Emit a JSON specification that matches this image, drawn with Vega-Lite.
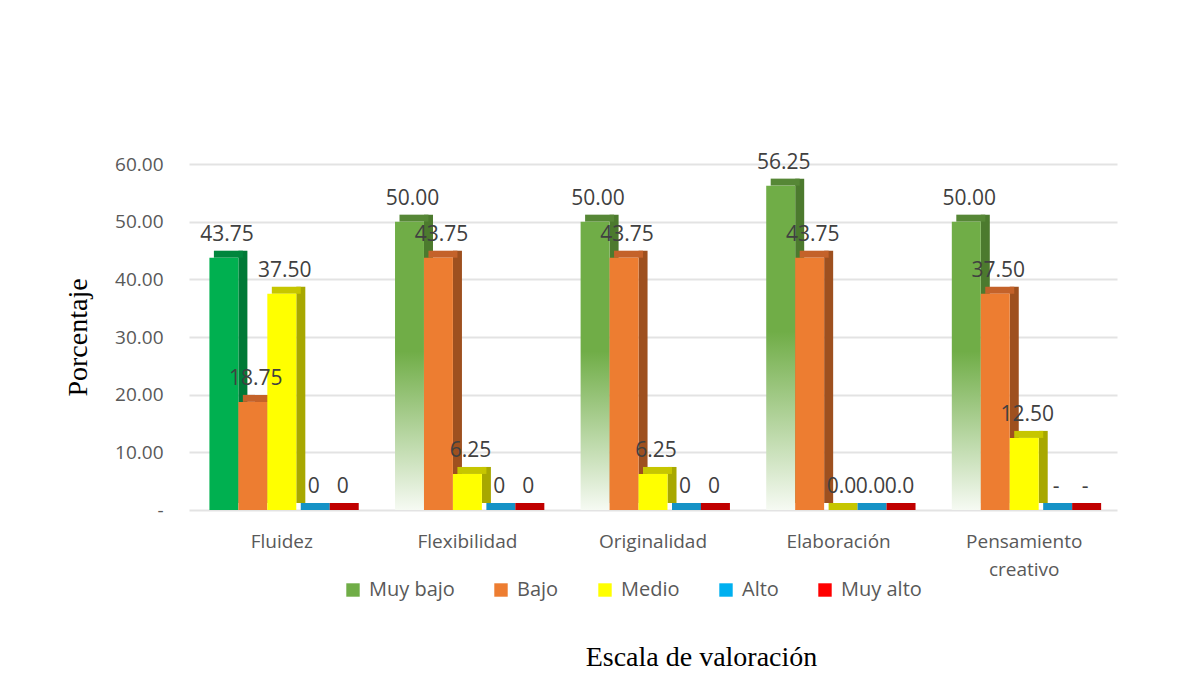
{
  "$schema": "https://vega.github.io/schema/vega-lite/v6.json",
  "autosize": {"type": "none"},
  "padding": {"left": 189, "top": 164, "right": 60, "bottom": 169},
  "width": 928,
  "height": 346,
  "background": "#FFFFFF",
  "config": {"view": {"stroke": null}, "font": "Open Sans"},
  "data": {
    "values": [
      {"cat": "Fluidez", "serie": "Muy bajo", "value": 43.75, "label": "43.75"},
      {"cat": "Fluidez", "serie": "Bajo", "value": 18.75, "label": "18.75"},
      {"cat": "Fluidez", "serie": "Medio", "value": 37.5, "label": "37.50"},
      {"cat": "Fluidez", "serie": "Alto", "value": 0, "label": "0"},
      {"cat": "Fluidez", "serie": "Muy alto", "value": 0, "label": "0"},
      {"cat": "Flexibilidad", "serie": "Muy bajo", "value": 50, "label": "50.00"},
      {"cat": "Flexibilidad", "serie": "Bajo", "value": 43.75, "label": "43.75"},
      {"cat": "Flexibilidad", "serie": "Medio", "value": 6.25, "label": "6.25"},
      {"cat": "Flexibilidad", "serie": "Alto", "value": 0, "label": "0"},
      {"cat": "Flexibilidad", "serie": "Muy alto", "value": 0, "label": "0"},
      {"cat": "Originalidad", "serie": "Muy bajo", "value": 50, "label": "50.00"},
      {"cat": "Originalidad", "serie": "Bajo", "value": 43.75, "label": "43.75"},
      {"cat": "Originalidad", "serie": "Medio", "value": 6.25, "label": "6.25"},
      {"cat": "Originalidad", "serie": "Alto", "value": 0, "label": "0"},
      {"cat": "Originalidad", "serie": "Muy alto", "value": 0, "label": "0"},
      {"cat": "Elaboración", "serie": "Muy bajo", "value": 56.25, "label": "56.25"},
      {"cat": "Elaboración", "serie": "Bajo", "value": 43.75, "label": "43.75"},
      {"cat": "Elaboración", "serie": "Medio", "value": 0, "label": "0.0"},
      {"cat": "Elaboración", "serie": "Alto", "value": 0, "label": "0.0"},
      {"cat": "Elaboración", "serie": "Muy alto", "value": 0, "label": "0.0"},
      {"cat": "Pensamiento creativo", "serie": "Muy bajo", "value": 50, "label": "50.00"},
      {"cat": "Pensamiento creativo", "serie": "Bajo", "value": 37.5, "label": "37.50"},
      {"cat": "Pensamiento creativo", "serie": "Medio", "value": 12.5, "label": "12.50"},
      {"cat": "Pensamiento creativo", "serie": "Alto", "value": 0, "label": "-"},
      {"cat": "Pensamiento creativo", "serie": "Muy alto", "value": 0, "label": "-"}
    ]
  },
  "encoding": {
    "x": {
      "field": "cat",
      "type": "nominal",
      "sort": null,
      "scale": {"paddingInner": 0.22, "paddingOuter": 0.11},
      "axis": {
        "title": "Escala de valoración",
        "titleFont": "Liberation Serif",
        "titleFontSize": 28,
        "titleFontWeight": "normal",
        "titleColor": "#000000",
        "titleX": 512,
        "titleY": 147,
        "titleAlign": "center",
        "titleBaseline": "middle",
        "labelAngle": 0,
        "labelFontSize": 19,
        "labelColor": "#595959",
        "labelPadding": 22,
        "labelLineHeight": 28,
        "labelExpr": "datum.label == 'Pensamiento creativo' ? ['Pensamiento', 'creativo'] : datum.label",
        "domain": false,
        "ticks": false
      }
    },
    "y": {
      "field": "value",
      "type": "quantitative",
      "scale": {"domain": [0, 60], "nice": false},
      "axis": {
        "title": "Porcentaje",
        "titleFont": "Liberation Serif",
        "titleFontSize": 28,
        "titleFontWeight": "normal",
        "titleColor": "#000000",
        "titleAngle": -90,
        "titleX": -111,
        "titleY": 173,
        "titleAlign": "center",
        "titleBaseline": "middle",
        "values": [0, 10, 20, 30, 40, 50, 60],
        "labelExpr": "datum.value == 0 ? '-\u00a0\u00a0\u00a0\u00a0\u00a0' : format(datum.value, '.2f')",
        "labelFontSize": 19,
        "labelColor": "#595959",
        "labelPadding": 26,
        "domain": false,
        "ticks": false,
        "grid": true,
        "gridColor": "#E3E3E3",
        "gridWidth": 2
      }
    }
  },
  "resolve": {"scale": {"xOffset": "independent"}},
  "layer": [
    {
      "mark": {"type": "rule", "strokeWidth": 9, "yOffset": -7, "y2Offset": -7},
      "encoding": {
        "xOffset": {
          "field": "serie",
          "type": "nominal",
          "sort": ["Muy bajo", "Bajo", "Medio", "Alto", "Muy alto"],
          "scale": {"type": "band", "paddingInner": 0, "paddingOuter": 0, "range": [19, 163.8]}
        },
        "y2": {"datum": 0},
        "color": {
          "condition": [
            {"test": "datum.cat == 'Fluidez' && datum.serie == 'Muy bajo'", "value": "#007A37"},
            {"test": "datum.serie == 'Muy bajo'", "value": "#4C7A2E"},
            {"test": "datum.serie == 'Bajo'", "value": "#9E501F"},
            {"test": "datum.serie == 'Medio'", "value": "#A8A800"},
            {"test": "datum.serie == 'Alto'", "value": "#0077A6"}
          ],
          "value": "#A00000"
        }
      }
    },
    {
      "mark": {"type": "tick", "size": 29, "thickness": 7, "yOffset": -3.5, "opacity": 1},
      "encoding": {
        "xOffset": {
          "field": "serie",
          "type": "nominal",
          "sort": ["Muy bajo", "Bajo", "Medio", "Alto", "Muy alto"],
          "scale": {"type": "band", "paddingInner": 0, "paddingOuter": 0, "range": [4.5, 149.3]}
        },
        "color": {
          "condition": [
            {"test": "datum.cat == 'Fluidez' && datum.serie == 'Muy bajo'", "value": "#00863D"},
            {"test": "datum.serie == 'Muy bajo'", "value": "#568736"},
            {"test": "datum.serie == 'Bajo'", "value": "#C4622A"},
            {"test": "datum.serie == 'Medio'", "value": "#C6C600"},
            {"test": "datum.serie == 'Alto'", "value": "#1592C6"}
          ],
          "value": "#C00000"
        }
      }
    },
    {
      "mark": {"type": "bar"},
      "encoding": {
        "xOffset": {
          "field": "serie",
          "type": "nominal",
          "sort": ["Muy bajo", "Bajo", "Medio", "Alto", "Muy alto"],
          "scale": {"type": "band", "paddingInner": 0, "paddingOuter": 0}
        },
        "color": {
          "condition": [
            {"test": "datum.cat == 'Fluidez' && datum.serie == 'Muy bajo'", "value": "#00B050"},
            {"test": "datum.serie == 'Muy bajo'", "value": {
              "gradient": "linear", "x1": 0, "y1": 0, "x2": 0, "y2": 1,
              "stops": [
                {"offset": 0, "color": "#70AD47"},
                {"offset": 0.45, "color": "#70AD47"},
                {"offset": 1, "color": "#F6FAF3"}
              ]
            }}
          ],
          "field": "serie",
          "type": "nominal",
          "scale": {
            "domain": ["Muy bajo", "Bajo", "Medio", "Alto", "Muy alto"],
            "range": ["#70AD47", "#ED7D31", "#FFFF00", "#00B0F0", "#FF0000"]
          },
          "legend": {
            "title": null,
            "orient": "none",
            "legendX": 154,
            "legendY": 416,
            "direction": "horizontal",
            "symbolType": "square",
            "symbolSize": 180,
            "symbolStrokeWidth": 0,
            "labelFontSize": 20,
            "labelColor": "#595959",
            "labelOffset": 6,
            "columnPadding": 36
          }
        }
      }
    },
    {
      "mark": {"type": "text", "baseline": "middle", "align": "center", "dy": -23, "dx": 3, "fontSize": 21, "color": "#404040"},
      "encoding": {
        "xOffset": {
          "field": "serie",
          "type": "nominal",
          "sort": ["Muy bajo", "Bajo", "Medio", "Alto", "Muy alto"],
          "scale": {"type": "band", "paddingInner": 0, "paddingOuter": 0}
        },
        "text": {"field": "label"}
      }
    }
  ]
}
